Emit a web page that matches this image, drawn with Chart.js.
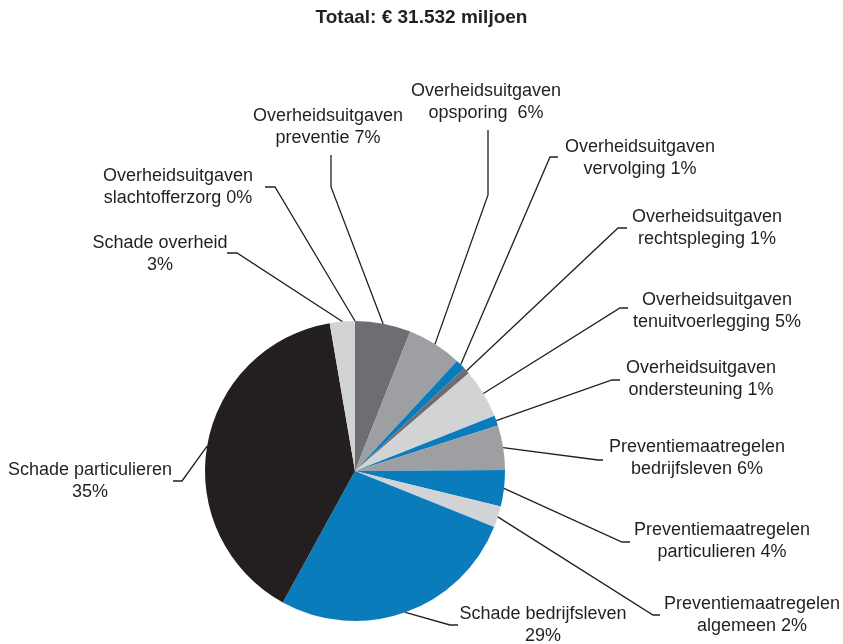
<!DOCTYPE html>
<html>
<head>
<meta charset="utf-8">
<script src="https://cdn.jsdelivr.net/npm/chart.js@4"></script>
<style>
  html, body { margin: 0; padding: 0; background: #fff; }
  #wrap { width: 843px; height: 644px; position: relative; }
</style>
</head>
<body>
<div id="wrap"><canvas id="grafiek"></canvas></div>
<script>
// categorieen (volgorde met de klok mee vanaf 12 uur)
const categories = [
  'Overheidsuitgaven preventie',
  'Overheidsuitgaven opsporing',
  'Overheidsuitgaven vervolging',
  'Overheidsuitgaven rechtspleging',
  'Overheidsuitgaven tenuitvoerlegging',
  'Overheidsuitgaven ondersteuning',
  'Preventiemaatregelen bedrijfsleven',
  'Preventiemaatregelen particulieren',
  'Preventiemaatregelen algemeen',
  'Schade bedrijfsleven',
  'Schade particulieren',
  'Schade overheid',
  'Overheidsuitgaven slachtofferzorg'
];
// aandelen zoals getekend
const shares = [6.0, 5.9, 1.1, 0.7, 5.3, 1.1, 4.8, 3.9, 2.3, 26.9, 39.3, 2.7, 0];
// percentages in de labels
const pctLabels = ['7%', '6%', '1%', '1%', '5%', '1%', '6%', '4%', '2%', '29%', '35%', '3%', '0%'];
// labelregels
const labelLines = [
  ['Overheidsuitgaven', 'preventie 7%'],
  ['Overheidsuitgaven', 'opsporing  6%'],
  ['Overheidsuitgaven', 'vervolging 1%'],
  ['Overheidsuitgaven', 'rechtspleging 1%'],
  ['Overheidsuitgaven', 'tenuitvoerlegging 5%'],
  ['Overheidsuitgaven', 'ondersteuning 1%'],
  ['Preventiemaatregelen', 'bedrijfsleven 6%'],
  ['Preventiemaatregelen', 'particulieren 4%'],
  ['Preventiemaatregelen', 'algemeen 2%'],
  ['Schade bedrijfsleven', '29%'],
  ['Schade particulieren', '35%'],
  ['Schade overheid', '3%'],
  ['Overheidsuitgaven', 'slachtofferzorg 0%']
];
const title = 'Totaal: € 31.532 miljoen';

const BLUE = '#0a7bbb', BLACK = '#231f20', DGRAY = '#6d6e71', GRAY = '#9d9fa2', LGRAY = '#d1d3d4';
const colors = [DGRAY, GRAY, BLUE, DGRAY, LGRAY, BLUE, GRAY, BLUE, LGRAY, BLUE, BLACK, LGRAY, LGRAY];

// plaats van knik, einde van de lijn en tekst (x midden, y eerste regel)
const labelLayout = [
  { elbow: [331, 187], end: [331, 155], tx: 328, ty: 116 },
  { elbow: [488, 195], end: [488, 130], tx: 486, ty: 91 },
  { elbow: [550, 157], end: [558, 157], tx: 640, ty: 147 },
  { elbow: [618, 228], end: [627, 228], tx: 707, ty: 217 },
  { elbow: [620, 308], end: [628, 308], tx: 717, ty: 300 },
  { elbow: [612, 380], end: [620, 380], tx: 701, ty: 368 },
  { elbow: [598, 460], end: [603, 460], tx: 697, ty: 447 },
  { elbow: [622, 542], end: [630, 542], tx: 722, ty: 530 },
  { elbow: [653, 615], end: [660, 615], tx: 752, ty: 604 },
  { elbow: [450, 625], end: [458, 625], tx: 543, ty: 614 },
  { elbow: [182, 481], end: [173, 481], tx: 90, ty: 470 },
  { elbow: [237, 253], end: [227, 253], tx: 160, ty: 243 },
  { elbow: [275, 187], end: [265, 187], tx: 178, ty: 176 }
];

const labelPlugin = {
  id: 'leaderLabels',
  afterDatasetsDraw(chart) {
    const ctx = chart.ctx;
    const arcs = chart.getDatasetMeta(0).data;
    ctx.save();
    ctx.strokeStyle = BLACK;
    ctx.lineWidth = 1.3;
    arcs.forEach((arc, i) => {
      const p = arc.getProps(['x', 'y', 'startAngle', 'endAngle', 'outerRadius'], true);
      const mid = (p.startAngle + p.endAngle) / 2;
      const sx = p.x + Math.cos(mid) * p.outerRadius;
      const sy = p.y + Math.sin(mid) * p.outerRadius;
      const L = labelLayout[i];
      ctx.beginPath();
      ctx.moveTo(sx, sy);
      ctx.lineTo(L.elbow[0], L.elbow[1]);
      ctx.lineTo(L.end[0], L.end[1]);
      ctx.stroke();
      ctx.fillStyle = BLACK;
      ctx.font = '18px "Liberation Sans", Arial, sans-serif';
      ctx.textAlign = 'center';
      ctx.textBaseline = 'middle';
      labelLines[i].forEach((line, j) => {
        ctx.fillText(line, L.tx, L.ty + j * 21.7);
      });
    });
    ctx.font = 'bold 19px "Liberation Sans", Arial, sans-serif';
    ctx.textAlign = 'center';
    ctx.textBaseline = 'middle';
    ctx.fillStyle = BLACK;
    ctx.fillText(title, chart.width / 2, 18);
    ctx.restore();
  }
};

const ctx = document.getElementById('grafiek').getContext('2d');
new Chart(ctx, {
  type: 'pie',
  data: {
    labels: categories,
    datasets: [{
      data: shares,
      backgroundColor: colors,
      borderWidth: 0
    }]
  },
  options: {
    responsive: true,
    maintainAspectRatio: false,
    animation: false,
    layout: { padding: { left: 205, right: 338, top: 321, bottom: 23 } },
    plugins: {
      legend: { display: false },
      tooltip: { enabled: false },
      title: { display: false }
    }
  },
  plugins: [labelPlugin]
});
</script>
</body>
</html>
